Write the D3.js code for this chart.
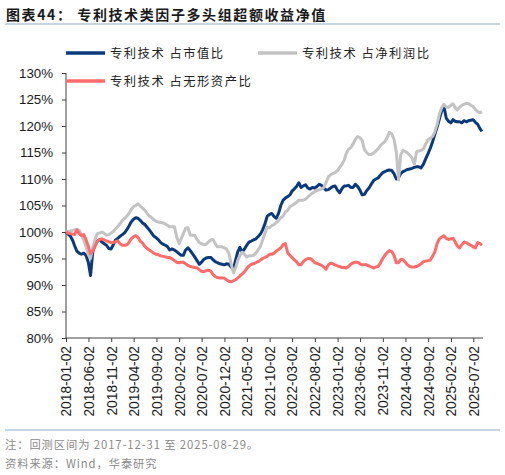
<!DOCTYPE html>
<html><head><meta charset="utf-8">
<script src="https://cdn.jsdelivr.net/npm/d3@7"></script>
<style>
html,body{margin:0;padding:0;background:#fff;}
svg{display:block;}
</style></head>
<body><svg id="c" width="505" height="475"></svg>
<script>
// ---- data (semi-monthly readings: 1st and 16th of each month, 2018-01-02 .. 2025-08-29) ----
const startDate = "2018-01-02";
const endDate = "2025-08-29";
const xTickLabels = ["2018-01-02","2018-06-02","2018-11-02","2019-04-02","2019-09-02","2020-02-02","2020-07-02","2020-12-02","2021-05-02","2021-10-02","2022-03-02","2022-08-02","2023-01-02","2023-06-02","2023-11-02","2024-04-02","2024-09-02","2025-02-02","2025-07-02"];
const yTicks = [80,85,90,95,100,105,110,115,120,125,130];
const seriesNames = ["专利技术 占市值比","专利技术 占净利润比","专利技术 占无形资产比"];

const mktCap = [100,99.6,99.2,98.4,97.4,96.4,96.0,95.8,96.0,95.6,94.3,91.8,96.3,97.6,98.3,98.5,98.1,97.8,97.5,96.9,
96.8,97.6,98.5,98.8,99.2,99.5,99.9,100.5,101.1,101.9,102.4,102.7,102.6,102.2,101.7,101.4,100.9,100.4,99.8,99.2,
98.9,98.5,98.0,97.7,97.5,97.2,96.6,96.8,96.6,96.3,95.9,95.6,95.6,96.6,97.0,96.5,95.9,95.3,94.6,93.9,
94.3,94.8,95.1,95.2,95.2,94.8,94.4,94.2,94.0,93.9,93.8,94.0,93.9,93.4,93.1,94.8,96.2,97.1,96.2,96.8,
97.5,98.1,98.3,98.5,98.7,99.1,99.6,100.4,101.6,103.0,103.3,103.5,102.9,102.6,103.5,105.0,106.0,106.4,106.7,107.0,
107.7,108.1,108.6,109.3,108.4,108.7,108.9,108.3,108.1,108.4,108.3,108.6,109.0,108.8,108.3,107.9,108.0,108.3,108.6,108.7,
107.9,107.4,108.2,108.7,108.7,108.8,108.4,108.4,109.0,108.6,107.9,107.0,107.1,107.8,108.3,109.0,109.7,110.0,110.2,110.7,
111.2,111.4,111.6,111.7,111.6,111.0,110.0,110.3,111.0,111.4,111.6,111.8,111.9,112.0,112.2,112.3,112.3,112.1,112.8,113.8,
114.8,115.8,117.0,118.4,119.8,121.3,122.8,123.8,121.5,120.9,120.6,121.2,120.9,120.8,120.8,120.6,121.0,120.8,121.0,121.1,
121.2,120.7,120.3,119.5,119.0];

const netProfit = [100,100.1,100.2,100.3,100.4,100.5,100.3,99.5,98.5,97.3,95.7,95.0,97.1,98.6,99.7,99.8,100.0,99.7,99.4,99.5,
99.8,100.1,100.6,101.0,101.6,102.2,102.6,103.0,103.5,104.2,104.8,105.0,105.3,104.9,104.5,104.1,103.5,103.0,102.7,102.3,
102.0,101.9,101.8,101.7,101.5,101.2,101.0,101.0,101.0,99.1,97.8,98.8,99.7,100.7,100.8,99.4,99.4,99.4,98.6,98.0,
97.8,97.6,97.7,98.1,98.5,98.6,97.8,97.2,97.2,97.2,97.0,96.8,96.0,94.0,92.3,93.3,94.6,95.6,96.2,95.8,
95.3,95.5,95.5,95.6,96.0,96.6,97.3,98.5,99.8,100.9,100.8,101.2,101.4,101.8,102.2,102.7,103.0,103.8,104.1,104.8,
105.0,105.3,105.6,106.0,106.0,106.0,106.2,106.6,107.0,107.3,107.6,107.8,108.0,108.1,108.4,109.3,110.4,110.8,111.0,111.2,
111.6,112.2,112.8,113.6,114.8,115.6,115.9,116.6,117.5,118.0,117.8,117.3,115.6,115.0,114.6,114.6,114.9,115.3,115.7,116.3,
116.7,117.1,117.8,118.8,118.5,117.5,115.0,109.8,114.5,115.4,115.2,114.9,114.5,114.0,112.8,115.1,115.3,115.4,115.7,116.6,
117.4,117.7,118.0,118.9,120.3,122.2,123.4,124.1,123.6,123.5,123.9,124.2,123.5,123.0,123.5,123.9,124.1,124.3,124.2,123.9,
123.7,123.1,122.7,122.5,122.7];

const intangible = [100,99.8,99.7,99.6,99.5,100.4,99.7,99.3,99.5,98.6,97.3,95.9,96.4,97.3,98.2,98.6,98.7,98.5,98.3,98.2,
98.0,98.0,98.2,98.3,97.8,97.5,97.5,97.6,98.0,98.7,99.1,99.3,99.0,98.3,97.9,97.3,96.9,96.6,96.3,96.0,
95.8,95.7,95.5,95.4,95.3,95.2,95.2,94.9,94.6,94.3,94.2,94.3,94.3,94.0,93.7,93.5,93.4,93.3,93.2,92.9,
92.6,92.5,92.7,92.8,92.6,92.0,91.6,91.4,91.3,91.3,91.3,91.0,90.7,90.6,90.8,91.0,91.3,91.7,92.1,92.5,
93.1,93.6,93.9,94.0,94.2,94.4,94.7,95.0,95.2,95.4,95.8,95.8,96.0,96.4,96.7,97.0,97.6,97.8,96.0,95.6,
95.2,94.8,94.4,93.8,93.8,94.4,94.8,95.0,95.0,94.7,94.2,94.1,93.9,93.7,93.4,93.0,93.8,94.1,94.0,93.8,
93.6,93.5,93.3,93.3,93.2,93.5,93.9,94.2,94.3,94.3,94.0,93.8,93.8,93.8,93.6,93.4,93.2,93.4,93.5,94.1,
95.0,95.6,96.1,96.5,96.3,95.6,94.2,94.2,94.8,94.8,94.3,93.8,93.5,93.4,93.4,93.5,93.7,94.0,94.4,94.5,
94.6,94.7,95.4,96.2,97.8,98.7,99.0,99.3,98.8,98.6,98.7,98.8,98.2,97.4,97.0,97.6,98.1,98.0,97.7,97.5,
97.2,97.0,98.0,97.8,97.5];

const colors = ["#0b3a7c","#c3c3c3","#ff6b6b"];

// ---- build dates (1st / 16th of each month) ----
const parse = d3.timeParse("%Y-%m-%d");
const dates = mktCap.map((_, k) => {
  if (k === 0) return parse(startDate);
  if (k === mktCap.length - 1) return parse(endDate);
  const m = Math.floor(k / 2);
  return new Date(2018, m, k % 2 === 0 ? 1 : 16);
});

const svg = d3.select("#c");
const x = d3.scaleTime().domain([parse(startDate), parse(endDate)]).range([66, 481.9]);
const y = d3.scaleLinear().domain([80, 130]).range([338, 73]);

// title
svg.append("text").attr("x", 6).attr("y", 19.5)
  .attr("font-family", "'Noto Sans CJK SC', sans-serif").attr("font-weight", "bold")
  .attr("font-size", 14).attr("letter-spacing", 1.6).attr("fill", "#1a1a1a")
  .text("图表44：  专利技术类因子多头组超额收益净值");
svg.append("line").attr("x1", 5).attr("x2", 500).attr("y1", 24).attr("y2", 24)
  .attr("stroke", "#b3c6da").attr("stroke-width", 1.3);

// y axis
const yAxis = d3.axisLeft(y).tickValues(yTicks).tickFormat(d => d + "%").tickSize(4).tickPadding(9);
const gy = svg.append("g").attr("transform", "translate(66,0)").call(yAxis);
gy.selectAll("text").attr("font-family", "'Liberation Sans', Arial, sans-serif").attr("font-size", 13.3).attr("fill", "#1a1a1a");
gy.selectAll("line").attr("stroke", "#404040");
gy.select(".domain").attr("stroke", "#404040").attr("d", "M0,73V338");

// x axis
const xAxis = d3.axisBottom(x).tickValues(xTickLabels.map(parse)).tickFormat(d3.timeFormat("%Y-%m-%d")).tickSize(4);
const gx = svg.append("g").attr("transform", "translate(0,338)").call(xAxis);
gx.select(".domain").attr("stroke", "#404040").attr("d", "M66,0H483");
gx.selectAll("line").attr("stroke", "#404040");
gx.selectAll("text")
  .attr("font-family", "'Liberation Sans', Arial, sans-serif").attr("font-size", 13.8).attr("fill", "#1a1a1a")
  .attr("text-anchor", "end").attr("transform", "rotate(-90)")
  .attr("x", -8).attr("y", 0).attr("dy", "0.35em");

// lines
const series = [mktCap, netProfit, intangible];
const line = d3.line().x((d, i) => x(dates[i])).y(d => y(d)).curve(d3.curveLinear);
series.forEach((s, i) => {
  svg.append("path").datum(s).attr("d", line).attr("fill", "none")
    .attr("stroke", colors[i]).attr("stroke-width", 3).attr("stroke-linejoin", "round");
});

// legend
const legendPos = [[66, 53], [258, 53], [66, 81]];
seriesNames.forEach((n, i) => {
  const [lx, ly] = legendPos[i];
  svg.append("line").attr("x1", lx).attr("x2", lx + 39).attr("y1", ly).attr("y2", ly)
    .attr("stroke", colors[i]).attr("stroke-width", 3.5);
  svg.append("text").attr("x", lx + 44).attr("y", ly + 4.5)
    .attr("font-family", "'Noto Sans CJK SC', sans-serif").attr("font-size", 12.3)
    .attr("letter-spacing", 1.5).attr("fill", "#222").text(n);
});

// footer
svg.append("line").attr("x1", 5).attr("x2", 500).attr("y1", 430).attr("y2", 430)
  .attr("stroke", "#b3c6da").attr("stroke-width", 1.3);
const foot = ["注：回测区间为 2017-12-31 至 2025-08-29。", "资料来源：Wind，华泰研究"];
foot.forEach((t, i) => {
  svg.append("text").attr("x", 5).attr("y", 449 + i * 18.5)
    .attr("font-family", "'Noto Sans CJK SC', 'Liberation Sans', sans-serif").attr("font-size", 11.3)
    .attr("letter-spacing", 0.9).attr("fill", "#8a8a8a").text(t);
});
</script>
</body></html>
